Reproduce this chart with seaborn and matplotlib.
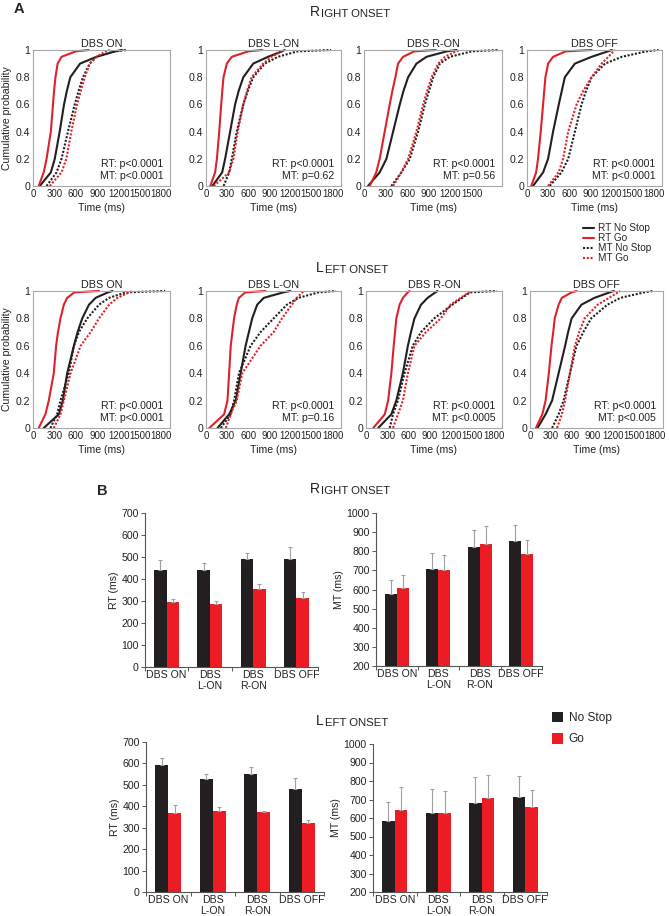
import numpy as np
import pandas as pd
import matplotlib
matplotlib.use('Agg')
import matplotlib.pyplot as plt
import seaborn as sns
from matplotlib.lines import Line2D
from matplotlib.patches import Patch
from matplotlib.text import Annotation

sns.set_theme(style='ticks')
plt.rcParams['font.family'] = ['Liberation Sans', 'DejaVu Sans']

# ------------------------------------------------------------------ data
conditions = ['DBS ON', 'DBS L-ON', 'DBS R-ON', 'DBS OFF']
bar_labels = ['DBS ON', 'DBS\nL-ON', 'DBS\nR-ON', 'DBS OFF']
curve_names = ['RT No Stop', 'RT Go', 'MT No Stop', 'MT Go']
cum_prob = [0, 0.1, 0.2, 0.4, 0.6, 0.7, 0.8, 0.9, 0.95, 0.99, 1.0]

# times (ms) at which each cumulative probability is reached, one list per condition
right_rt_nostop_q = [[95, 250, 305, 374, 435, 475, 523, 660, 890, 1150, 1250],
                     [90, 230, 272, 343, 414, 465, 531, 672, 883, 1080, 1118],
                     [55, 218, 312, 405, 498, 550, 614, 730, 870, 1150, 1288],
                     [85, 229, 300, 371, 452, 495, 538, 681, 919, 1150, 1205]]
right_rt_go_q = [[80, 150, 190, 250, 280, 295, 315, 345, 400, 600, 780],
                 [60, 130, 155, 188, 216, 232, 249, 296, 367, 600, 800],
                 [80, 170, 218, 288, 358, 395, 437, 474, 544, 700, 1000],
                 [60, 130, 157, 195, 229, 245, 262, 300, 371, 550, 919]]
right_mt_nostop_q = [[190, 330, 400, 490, 585, 640, 700, 795, 890, 1150, 1310],
                     [250, 330, 367, 437, 531, 595, 672, 836, 1024, 1300, 1780],
                     [380, 520, 637, 753, 847, 905, 963, 1056, 1195, 1500, 1870],
                     [324, 490, 586, 681, 776, 840, 919, 1110, 1348, 1700, 1871]]
right_mt_go_q = [[235, 400, 467, 537, 617, 670, 725, 795, 890, 1020, 1075],
                 [110, 330, 390, 451, 531, 585, 648, 813, 930, 1080, 1118],
                 [405, 520, 614, 730, 823, 880, 940, 1033, 1126, 1280, 1335],
                 [300, 450, 514, 586, 705, 800, 919, 1062, 1157, 1230, 1252]]

left_rt_nostop_q = [[150, 362, 418, 479, 573, 625, 690, 784, 878, 1050, 1113],
                    [164, 329, 423, 493, 563, 610, 657, 728, 822, 1100, 1197],
                    [172, 358, 428, 521, 591, 635, 684, 777, 870, 980, 1009],
                    [108, 225, 319, 413, 507, 550, 601, 742, 930, 1150, 1211]]
left_rt_go_q = [[80, 174, 221, 291, 324, 350, 385, 432, 479, 580, 925],
                [47, 258, 305, 329, 352, 375, 399, 437, 469, 560, 845],
                [102, 265, 312, 358, 391, 410, 428, 474, 521, 590, 614],
                [85, 178, 225, 272, 310, 335, 357, 413, 460, 600, 671]]
left_mt_nostop_q = [[244, 338, 385, 502, 573, 643, 760, 925, 1066, 1300, 1850],
                    [211, 352, 399, 469, 634, 775, 962, 1150, 1315, 1600, 1850],
                    [335, 381, 451, 544, 660, 777, 963, 1219, 1358, 1470, 1847],
                    [319, 413, 484, 577, 671, 770, 883, 1117, 1305, 1650, 1775]]
left_mt_go_q = [[291, 385, 432, 526, 667, 808, 925, 1066, 1183, 1350, 1394],
                [282, 352, 437, 516, 775, 962, 1080, 1221, 1291, 1370, 1385],
                [381, 451, 521, 591, 684, 847, 1056, 1195, 1335, 1450, 1474],
                [390, 460, 507, 577, 648, 710, 789, 977, 1141, 1270, 1305]]

right_rt_p = ['p<0.0001', 'p<0.0001', 'p<0.0001', 'p<0.0001']
right_mt_p = ['p<0.0001', 'p=0.62', 'p=0.56', 'p<0.0001']
left_rt_p = ['p<0.0001', 'p<0.0001', 'p<0.0001', 'p<0.0001']
left_mt_p = ['p<0.0001', 'p=0.16', 'p<0.0005', 'p<0.005']

time_ticks = [0, 300, 600, 900, 1200, 1500, 1800]
short_time_ticks = [0, 300, 600, 900, 1200, 1500]
prob_ticks = [0, 0.2, 0.4, 0.6, 0.8, 1.0]
prob_tick_labels = ['0', '0.2', '0.4', '0.6', '0.8', '1']

# bar chart means and (upper) errors
right_rt_nostop_mean = [441, 440, 492, 492]
right_rt_nostop_err = [46, 32, 27, 53]
right_rt_go_mean = [294, 286, 353, 313]
right_rt_go_err = [15, 15, 24, 28]
right_mt_nostop_mean = [579, 708, 822, 853]
right_mt_nostop_err = [70, 84, 89, 86]
right_mt_go_mean = [607, 701, 839, 787]
right_mt_go_err = [70, 79, 95, 71]
left_rt_nostop_mean = [593, 527, 553, 482]
left_rt_nostop_err = [34, 26, 29, 52]
left_rt_go_mean = [369, 376, 373, 322]
left_rt_go_err = [35, 19, 3, 14]
left_mt_nostop_mean = [586, 625, 683, 716]
left_mt_nostop_err = [99, 132, 138, 112]
left_mt_go_mean = [645, 629, 710, 662]
left_mt_go_err = [120, 118, 125, 90]

# ------------------------------------------------------------------ style
BLACK = '#231f20'
RED_LINE = '#dd2229'
RED_BAR = '#ed1c24'
curve_colors = {'RT No Stop': BLACK, 'RT Go': RED_LINE, 'MT No Stop': BLACK, 'MT Go': RED_LINE}
curve_dashes = {'RT No Stop': '', 'RT Go': '', 'MT No Stop': (1, 0.8), 'MT Go': (1, 0.8)}
bar_colors = {'No Stop': BLACK, 'Go': RED_BAR}

W, H = 669, 916
fig = plt.figure(figsize=(W / 100, H / 100), dpi=100)


def ax_px(left, top, right, bottom):
    return fig.add_axes([left / W, 1 - bottom / H, (right - left) / W, (bottom - top) / H])


def fig_xy(x, y):
    return x / W, 1 - y / H


def small_caps(x, y, first, rest, big=10, small=8.2):
    t = fig.text(*fig_xy(x, y), first, fontsize=big, ha='left', va='baseline', color='#222222')
    ann = Annotation(rest, xy=(1, 0), xycoords=t, xytext=(0.6, 0), textcoords='offset points',
                     fontsize=small, ha='left', va='bottom', color='#222222')
    fig.add_artist(ann)


def draw_cdf(ax, qs, rt_p, mt_p, xticks, ylabel, title):
    frames = [pd.DataFrame({'time': q, 'prob': cum_prob, 'curve': name})
              for name, q in zip(curve_names, qs)]
    df = pd.concat(frames, ignore_index=True)
    sns.lineplot(data=df, x='time', y='prob', hue='curve', style='curve',
                 hue_order=curve_names, style_order=curve_names,
                 palette=curve_colors, dashes=curve_dashes, sort=False,
                 estimator=None, legend=False, linewidth=1.5, ax=ax)
    for ln in ax.lines:
        ln.set_clip_on(False)
    ax.set_xlim(0, 1920)
    ax.set_ylim(0, 1)
    ax.set_xticks(xticks)
    ax.set_xticklabels([str(v) for v in xticks])
    ax.set_yticks(prob_ticks)
    ax.set_yticklabels(prob_tick_labels)
    ax.tick_params(length=0, labelsize=7.6, pad=2, colors='#222222')
    ax.tick_params(axis='x', labelsize=6.9)
    for s in ax.spines.values():
        s.set_visible(True)
        s.set_color('#a8a8a8')
        s.set_linewidth(0.8)
    ax.set_xlabel('Time (ms)', fontsize=7.6, labelpad=3, color='#222222')
    ax.set_ylabel('Cumulative probability' if ylabel else '', fontsize=7.6, labelpad=3, color='#222222')
    ax.set_title(title, fontsize=7.8, pad=2, color='#222222')
    ax.text(0.95, 0.04, f'RT: {rt_p}\nMT: {mt_p}', transform=ax.transAxes,
            ha='right', va='bottom', fontsize=7.6, linespacing=1.15, color='#222222')


def draw_bars(ax, ns_mean, ns_err, go_mean, go_err, ylim, ylabel):
    df = pd.DataFrame({'cond': bar_labels * 2,
                       'group': ['No Stop'] * 4 + ['Go'] * 4,
                       'value': ns_mean + go_mean})
    sns.barplot(data=df, x='cond', y='value', hue='group', hue_order=['No Stop', 'Go'],
                order=bar_labels, palette=bar_colors, width=0.58, errorbar=None,
                saturation=1, linewidth=0, legend=False, ax=ax)
    for cont, errs in zip(ax.containers, [ns_err, go_err]):
        xs = [b.get_x() + b.get_width() / 2 for b in cont]
        hs = [b.get_height() for b in cont]
        ax.errorbar(xs, hs, yerr=[np.zeros(len(errs)), errs], fmt='none',
                    ecolor='#a0a0a0', elinewidth=0.8, capsize=1.6, capthick=0.8, zorder=1)
    ax.set_xlim(-0.5, 3.5)
    ax.set_ylim(*ylim)
    ax.set_yticks(np.arange(ylim[0], ylim[1] + 1, 100))
    ax.set_xticks(range(4))
    ax.set_xticklabels(bar_labels, fontsize=7.6, linespacing=1.1)
    ax.set_xticks([-0.5, 0.5, 1.5, 2.5, 3.5], minor=True)
    ax.tick_params(axis='x', which='major', length=0, pad=2, colors='#222222')
    ax.tick_params(axis='x', which='minor', length=3, width=0.7, color='#555555')
    ax.tick_params(axis='y', length=3, width=0.7, labelsize=7.6, pad=1.5, color='#555555',
                   labelcolor='#222222')
    sns.despine(ax=ax)
    for s in ('left', 'bottom'):
        ax.spines[s].set_color('#555555')
        ax.spines[s].set_linewidth(0.8)
    ax.set_xlabel('')
    ax.set_ylabel(ylabel, fontsize=7.6, labelpad=2, color='#222222')


# ------------------------------------------------------------------ panel A
rowA1 = [(33, 170), (206, 341), (364, 502), (527, 662)]
rowA2 = [(33, 170), (206, 341), (366, 502), (530, 663)]

right_sets = [right_rt_nostop_q, right_rt_go_q, right_mt_nostop_q, right_mt_go_q]
left_sets = [left_rt_nostop_q, left_rt_go_q, left_mt_nostop_q, left_mt_go_q]

for i, (l, r) in enumerate(rowA1):
    ax = ax_px(l, 50, r, 186)
    qs = [s[i] for s in right_sets]
    draw_cdf(ax, qs, right_rt_p[i], right_mt_p[i],
             short_time_ticks if i == 2 else time_ticks, i == 0, conditions[i])

for i, (l, r) in enumerate(rowA2):
    ax = ax_px(l, 291, r, 428)
    qs = [s[i] for s in left_sets]
    draw_cdf(ax, qs, left_rt_p[i], left_mt_p[i], time_ticks, i == 0, conditions[i])

fig.text(*fig_xy(14, 13), 'A', fontsize=10.5, fontweight='bold', ha='left', va='baseline')
small_caps(310, 16, 'R', 'IGHT ONSET')
small_caps(316, 272, 'L', 'EFT ONSET')

legA = [Line2D([], [], color=BLACK, lw=1.5),
        Line2D([], [], color=RED_LINE, lw=1.5),
        Line2D([], [], color=BLACK, lw=1.5, dashes=(1, 0.8)),
        Line2D([], [], color=RED_LINE, lw=1.5, dashes=(1, 0.8))]
fig.legend(legA, curve_names, loc='upper left', bbox_to_anchor=fig_xy(583, 223),
           frameon=False, fontsize=7.2, handlelength=1.1, handletextpad=0.35,
           labelspacing=0.0, borderpad=0, borderaxespad=0)

# ------------------------------------------------------------------ panel B
ax = ax_px(145, 513, 318, 667)
draw_bars(ax, right_rt_nostop_mean, right_rt_nostop_err, right_rt_go_mean, right_rt_go_err,
          (0, 700), 'RT (ms)')
ax = ax_px(376, 513, 542, 666)
draw_bars(ax, right_mt_nostop_mean, right_mt_nostop_err, right_mt_go_mean, right_mt_go_err,
          (200, 1000), 'MT (ms)')
ax = ax_px(146, 742, 324, 892)
draw_bars(ax, left_rt_nostop_mean, left_rt_nostop_err, left_rt_go_mean, left_rt_go_err,
          (0, 700), 'RT (ms)')
ax = ax_px(373, 744, 547, 892)
draw_bars(ax, left_mt_nostop_mean, left_mt_nostop_err, left_mt_go_mean, left_mt_go_err,
          (200, 1000), 'MT (ms)')

fig.text(*fig_xy(97, 495), 'B', fontsize=10.5, fontweight='bold', ha='left', va='baseline')
small_caps(310, 493, 'R', 'IGHT ONSET')
small_caps(316, 725, 'L', 'EFT ONSET')

legB = [Patch(facecolor=BLACK, edgecolor='none'), Patch(facecolor=RED_BAR, edgecolor='none')]
fig.legend(legB, ['No Stop', 'Go'], loc='upper left', bbox_to_anchor=fig_xy(552, 712),
           frameon=False, fontsize=8.6, handlelength=0.95, handleheight=0.95,
           handletextpad=0.45, labelspacing=0.75, borderpad=0, borderaxespad=0)

fig.savefig('out.png', dpi=100)
